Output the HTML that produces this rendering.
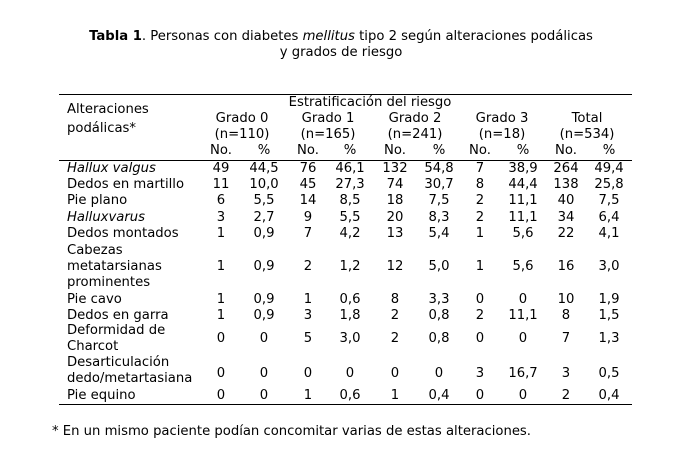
<!DOCTYPE html>
<html><head><meta charset="utf-8"><style>
body{margin:0;width:690px;height:468px;background:#fff;position:relative;font-family:"DejaVu Sans","Liberation Sans",sans-serif;font-size:13.2px;color:#000;overflow:hidden}
div{position:absolute;white-space:nowrap;line-height:16px}
.c{transform:translateX(-50%)}
.l{left:67px}
.h{height:0;border-top:1px solid #000;left:59px;width:573px;line-height:0}
</style></head><body>
<div class="c" style="left:341px;top:29px"><b>Tabla 1</b>. Personas con diabetes <i>mellitus</i> tipo 2 según alteraciones podálicas</div>
<div class="c" style="left:341px;top:45px">y grados de riesgo</div>
<div class="h" style="top:94px"></div>
<div class="l" style="top:102px">Alteraciones</div>
<div class="l" style="top:121px">podálicas*</div>
<div class="c" style="left:370px;top:95px">Estratificación del riesgo</div>
<div class="c" style="left:242px;top:111px">Grado 0</div>
<div class="c" style="left:242px;top:127px">(n=110)</div>
<div class="c" style="left:328px;top:111px">Grado 1</div>
<div class="c" style="left:328px;top:127px">(n=165)</div>
<div class="c" style="left:415px;top:111px">Grado 2</div>
<div class="c" style="left:415px;top:127px">(n=241)</div>
<div class="c" style="left:502px;top:111px">Grado 3</div>
<div class="c" style="left:502px;top:127px">(n=18)</div>
<div class="c" style="left:587px;top:111px">Total</div>
<div class="c" style="left:587px;top:127px">(n=534)</div>
<div class="h" style="top:160px"></div>
<div class="h" style="top:404px"></div>
<div style="left:52px;top:424px">* En un mismo paciente podían concomitar varias de estas alteraciones.</div>
<script>
var xs=[221,264,308,350,395,439,480,523,566,609];
function row(y,vals){vals.forEach(function(v,i){var d=document.createElement('div');d.className='c';d.style.left=xs[i]+'px';d.style.top=y+'px';d.textContent=v;document.body.appendChild(d);});}
function lab(y,t,it){var d=document.createElement('div');d.className='l';d.style.top=y+'px';d.textContent=t;if(it)d.style.fontStyle='italic';document.body.appendChild(d);}
row(143,['No.','%','No.','%','No.','%','No.','%','No.','%']);
var R=[
[161,[['Hallux valgus',1]],['49','44,5','76','46,1','132','54,8','7','38,9','264','49,4']],
[177,[['Dedos en martillo']],['11','10,0','45','27,3','74','30,7','8','44,4','138','25,8']],
[193,[['Pie plano']],['6','5,5','14','8,5','18','7,5','2','11,1','40','7,5']],
[210,[['Halluxvarus',1]],['3','2,7','9','5,5','20','8,3','2','11,1','34','6,4']],
[226,[['Dedos montados']],['1','0,9','7','4,2','13','5,4','1','5,6','22','4,1']],
[259,[],['1','0,9','2','1,2','12','5,0','1','5,6','16','3,0']],
[292,[['Pie cavo']],['1','0,9','1','0,6','8','3,3','0','0','10','1,9']],
[308,[['Dedos en garra']],['1','0,9','3','1,8','2','0,8','2','11,1','8','1,5']],
[331,[],['0','0','5','3,0','2','0,8','0','0','7','1,3']],
[366,[],['0','0','0','0','0','0','3','16,7','3','0,5']],
[388,[['Pie equino']],['0','0','1','0,6','1','0,4','0','0','2','0,4']]
];
R.forEach(function(r){r[1].forEach(function(t){lab(r[0],t[0],t[1]);});row(r[0],r[2]);});
lab(243,'Cabezas');lab(259,'metatarsianas');lab(275,'prominentes');
lab(323,'Deformidad de');lab(339,'Charcot');
lab(355,'Desarticulación');lab(371,'dedo/metartasiana');
</script>
</body></html>
